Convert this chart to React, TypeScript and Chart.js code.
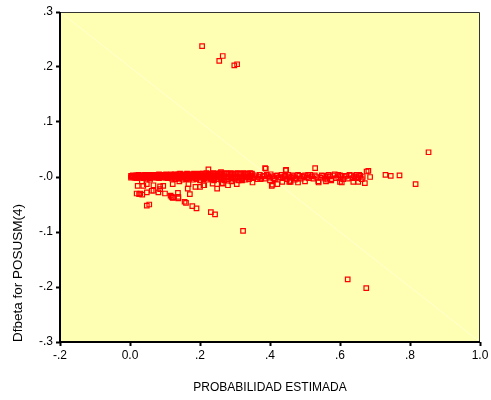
import React, { useEffect, useRef } from 'react';
import { Chart, registerables } from 'chart.js';

Chart.register(...registerables);

// ---- Data (PROBABILIDAD ESTIMADA vs Dfbeta for POSUSM(4)) ----
// dense band near zero, x 0.00 - 0.35 (overlapping rows)
const bandX = [0.003, 0.008, 0.013, 0.018, 0.024, 0.028, 0.033, 0.038, 0.043, 0.049, 0.053, 0.058, 0.063, 0.068, 0.074, 0.078, 0.083, 0.088, 0.093, 0.099, 0.103, 0.108, 0.113, 0.118, 0.124, 0.128, 0.133, 0.138, 0.143, 0.149, 0.153, 0.158, 0.163, 0.168, 0.174, 0.178, 0.183, 0.188, 0.193, 0.199, 0.203, 0.208, 0.213, 0.218, 0.224, 0.228, 0.233, 0.238, 0.243, 0.249, 0.253, 0.258, 0.263, 0.268, 0.274, 0.278, 0.283, 0.288, 0.293, 0.299, 0.303, 0.308, 0.313, 0.318, 0.324, 0.328, 0.333, 0.338, 0.343, 0.348];
const bandYa = [
  -0.001, 0.000, -0.001, -0.002, 0.000, -0.001, 0.000, -0.002, -0.001, 0.000,
  -0.001, -0.002, 0.000, -0.001, 0.001, -0.001, -0.002, 0.000, -0.001, 0.000,
  -0.001, -0.002, 0.000, -0.001, 0.001, -0.001, 0.000, -0.002, -0.001, 0.000,
  -0.001, 0.001, -0.002, 0.000, -0.001, 0.000, -0.001, -0.002, 0.001, 0.000,
  -0.001, 0.000, -0.002, -0.001, 0.001, 0.000, -0.001, -0.002, 0.000, 0.001,
  -0.001, 0.000, -0.002, -0.001, 0.001, 0.000, -0.001, 0.000, -0.002, 0.001,
  -0.001, 0.000, -0.001, -0.002, 0.001, 0.000, -0.001, 0.000, 0.001, -0.001,
];
const bandYb = [
  0.002, 0.003, 0.002, 0.003, 0.004, 0.003, 0.002, 0.003, 0.004, 0.003,
  0.003, 0.004, 0.003, 0.004, 0.003, 0.004, 0.005, 0.003, 0.004, 0.004,
  0.005, 0.004, 0.003, 0.005, 0.004, 0.005, 0.004, 0.005, 0.006, 0.004,
  0.005, 0.004, 0.006, 0.005, 0.004, 0.005, 0.006, 0.005, 0.004, 0.006,
  0.005, 0.006, 0.005, 0.007, 0.005, 0.006, 0.005, 0.007, 0.006, 0.005,
  0.006, 0.007, 0.005, 0.006, 0.007, 0.006, 0.005, 0.007, 0.006, 0.005,
  0.006, 0.007, 0.006, 0.005, 0.007, 0.006, 0.005, 0.006, 0.007, 0.006,
];
const bandXc = [0.005, 0.010, 0.016, 0.021, 0.026, 0.031, 0.036, 0.041, 0.046, 0.051, 0.056, 0.061, 0.066, 0.071, 0.076, 0.081, 0.086, 0.091, 0.096, 0.101, 0.106, 0.111, 0.116, 0.121, 0.126, 0.131, 0.136, 0.141, 0.146, 0.151, 0.156, 0.161, 0.166, 0.171, 0.176, 0.181, 0.186, 0.191, 0.196, 0.201, 0.206, 0.211, 0.216, 0.221, 0.226, 0.231, 0.236, 0.241, 0.246, 0.251];
const bandYc = [
  0.001, 0.002, 0.001, 0.000, 0.002, 0.001, 0.001, 0.002, 0.000, 0.001,
  0.002, 0.001, 0.001, 0.002, 0.000, 0.001, 0.002, 0.001, 0.002, 0.001,
  0.000, 0.002, 0.001, 0.002, 0.001, 0.002, 0.001, 0.000, 0.002, 0.001,
  0.002, 0.001, 0.002, 0.003, 0.001, 0.002, 0.001, 0.003, 0.002, 0.001,
  0.003, 0.002, 0.001, 0.003, 0.002, 0.002, 0.003, 0.001, 0.002, 0.003,
];

const lowerX = [0.120, 0.130, 0.140, 0.150, 0.160, 0.170, 0.180, 0.190, 0.200, 0.210, 0.220, 0.230, 0.240, 0.250, 0.260, 0.270, 0.280, 0.290, 0.300, 0.310, 0.320, 0.330, 0.340];
const lowerY = [-0.003, -0.004, -0.003, -0.005, -0.004, -0.003, -0.005, -0.004, -0.006, -0.004, -0.005, -0.003, -0.006, -0.004, -0.005, -0.006, -0.004, -0.005, -0.003, -0.006, -0.004, -0.005, -0.004];

// band continuing to the right, x 0.34 - 0.67
const rightX = [0.345, 0.352, 0.360, 0.368, 0.375, 0.383, 0.391, 0.398, 0.406, 0.414, 0.421, 0.429, 0.437, 0.444, 0.452, 0.460, 0.468, 0.476, 0.484, 0.492, 0.500, 0.511, 0.519, 0.528, 0.544, 0.552, 0.558, 0.571, 0.580, 0.589, 0.604, 0.613, 0.622, 0.632, 0.641, 0.650, 0.658, 0.665];
const rightY = [0.002, -0.002, 0.003, 0.000, -0.003, 0.002, 0.004, -0.001, 0.001, -0.004, 0.003, 0.000, -0.002, 0.002, 0.004, -0.001, 0.001, -0.003, 0.002, 0.000, 0.003, -0.002, 0.001, 0.003, -0.001, 0.002, -0.003, 0.001, 0.003, -0.002, 0.002, 0.000, -0.003, 0.003, 0.001, -0.002, 0.002, 0.000];
const rightX2 = [0.348, 0.356, 0.364, 0.371, 0.379, 0.387, 0.395, 0.402, 0.410, 0.418, 0.425, 0.433, 0.441, 0.448, 0.456, 0.464, 0.472, 0.480, 0.488, 0.496, 0.505, 0.515, 0.524, 0.533, 0.548, 0.562, 0.575, 0.585, 0.595, 0.600, 0.609, 0.618, 0.627, 0.637, 0.646, 0.655, 0.662];
const rightY2 = [0.005, 0.000, -0.004, 0.004, 0.001, -0.003, 0.001, 0.005, -0.002, 0.002, -0.001, 0.004, 0.001, -0.004, 0.000, 0.003, -0.002, 0.004, -0.003, 0.001, -0.001, 0.004, -0.003, 0.000, 0.003, 0.001, -0.004, 0.005, 0.000, 0.003, -0.004, 0.002, 0.004, -0.002, 0.000, 0.004, -0.004];

// scattered points around the band
const scatterX = [0.048, 0.055, 0.019, 0.026, 0.035, 0.022, 0.038, 0.048, 0.062, 0.081, 0.086, 0.095, 0.100, 0.116, 0.122, 0.137, 0.138, 0.122, 0.141, 0.156, 0.160, 0.171, 0.165, 0.178, 0.190, 0.167, 0.187, 0.200, 0.212, 0.231, 0.243, 0.236, 0.249, 0.265, 0.280, 0.305, 0.224, 0.260, 0.388, 0.407, 0.421, 0.445, 0.457, 0.471, 0.124, 0.119, 0.138, 0.067, 0.029, 0.086, 0.067, 0.048, 0.034, 0.057, 0.262, 0.210, 0.290, 0.320, 0.350, 0.372, 0.400, 0.435, 0.480, 0.500, 0.538, 0.560, 0.575, 0.386, 0.446, 0.529, 0.509, 0.567, 0.595, 0.600, 0.648, 0.676, 0.455, 0.539, 0.564, 0.605, 0.638, 0.652, 0.405, 0.459];
const scatterY = [-0.052, -0.050, -0.030, -0.031, -0.032, -0.016, -0.016, -0.028, -0.025, -0.028, -0.022, -0.016, -0.030, -0.034, -0.038, -0.029, -0.039, -0.013, -0.008, -0.045, -0.047, -0.031, -0.021, -0.053, -0.057, -0.013, -0.018, -0.018, -0.015, -0.064, -0.068, -0.012, -0.021, -0.012, -0.015, -0.013, 0.014, 0.009, 0.015, -0.014, -0.013, 0.012, -0.007, -0.005, -0.037, -0.036, -0.036, -0.015, -0.030, -0.017, -0.025, -0.013, -0.008, -0.005, -0.011, -0.015, -0.008, -0.006, -0.010, -0.004, -0.006, -0.009, -0.010, -0.008, -0.008, -0.008, -0.006, 0.016, 0.013, 0.016, 0.004, 0.004, 0.004, -0.009, 0.004, 0.010, -0.009, -0.010, -0.005, -0.010, -0.009, -0.009, -0.016, -0.009];

// outliers
const outlierX = [0.206, 0.265, 0.255, 0.298, 0.306, 0.323, 0.622, 0.675, 0.853, 0.816, 0.770, 0.745, 0.730, 0.681, 0.686, 0.671];
const outlierY = [0.238, 0.220, 0.211, 0.203, 0.205, -0.098, -0.186, -0.202, 0.045, -0.013, 0.003, 0.002, 0.004, 0.011, 0.000, -0.011];

const xTickValues = [-0.2, 0.0, 0.2, 0.4, 0.6, 0.8, 1.0];
const xTickLabels = ['-.2', '0.0', '.2', '.4', '.6', '.8', '1.0'];
const yTickValues = [-0.3, -0.2, -0.1, 0.0, 0.1, 0.2, 0.3];
const yTickLabels = ['-.3', '-.2', '-.1', '-.0', '.1', '.2', '.3'];

const xTitle = 'PROBABILIDAD ESTIMADA';
const yTitle = 'Dfbeta for POSUSM(4)';

function pairs(xs: number[], ys: number[]) {
  return xs.map((x, i) => ({ x, y: ys[i] }));
}

const plotBg = {
  id: 'plotBg',
  beforeDraw(chart: any) {
    const { ctx, chartArea } = chart;
    const { left, top, right, bottom } = chartArea;
    ctx.save();
    ctx.fillStyle = '#FFFFB4';
    ctx.fillRect(left, top, right - left, bottom - top);
    ctx.strokeStyle = 'rgba(255,255,255,0.35)';
    ctx.lineWidth = 1;
    ctx.beginPath();
    ctx.moveTo(left, top);
    ctx.lineTo(right, bottom);
    ctx.stroke();
    ctx.restore();
  },
  afterDraw(chart: any) {
    const { ctx, chartArea } = chart;
    const { left, top, right, bottom } = chartArea;
    ctx.save();
    ctx.strokeStyle = '#333';
    ctx.lineWidth = 1;
    ctx.beginPath();
    ctx.moveTo(left, top + 0.5);
    ctx.lineTo(right - 0.5, top + 0.5);
    ctx.lineTo(right - 0.5, bottom);
    ctx.stroke();
    ctx.strokeStyle = '#000';
    ctx.lineWidth = 2;
    ctx.beginPath();
    ctx.moveTo(left, top);
    ctx.lineTo(left, bottom);
    ctx.lineTo(right, bottom);
    ctx.stroke();
    ctx.restore();
  },
};

export default function App() {
  const ref = useRef<HTMLCanvasElement>(null);
  useEffect(() => {
    if (!ref.current) return;
    const points = [
      ...pairs(bandX, bandYa),
      ...pairs(bandX, bandYb),
      ...pairs(bandXc, bandYc),
      ...pairs(lowerX, lowerY),
      ...pairs(rightX, rightY),
      ...pairs(rightX2, rightY2),
      ...pairs(scatterX, scatterY),
      ...pairs(outlierX, outlierY),
    ];
    const font = 'Liberation Sans, Arial, sans-serif';
    const chart = new Chart(ref.current, {
      type: 'scatter',
      data: {
        datasets: [
          {
            data: points,
            pointStyle: 'rect',
            pointRadius: 3.2,
            pointBorderWidth: 1.2,
            pointBorderColor: '#FF0000',
            pointBackgroundColor: 'rgba(0,0,0,0)',
          },
        ],
      },
      plugins: [plotBg],
      options: {
        animation: false,
        responsive: false,
        devicePixelRatio: 1,
        layout: { padding: { left: 0, right: 11, top: 12, bottom: 0 } },
        plugins: { legend: { display: false }, tooltip: { enabled: false } },
        scales: {
          x: {
            type: 'linear',
            min: -0.2,
            max: 1.0,
            afterBuildTicks: (s: any) => {
              s.ticks = xTickValues.map((v) => ({ value: v }));
            },
            afterFit: (s: any) => {
              s.height = 58;
            },
            ticks: {
              autoSkip: false,
              maxRotation: 0,
              padding: 2,
              color: '#000',
              font: { family: font, size: 12 },
              callback: (_v: any, i: number) => xTickLabels[i],
            },
            grid: { drawOnChartArea: false, drawTicks: true, tickLength: 4, tickWidth: 2, tickColor: '#000' },
            border: { display: false },
            title: {
              display: true,
              text: xTitle,
              color: '#000',
              font: { family: font, size: 12 },
              padding: { top: 0, bottom: 5 },
            },
          },
          y: {
            type: 'linear',
            min: -0.3,
            max: 0.3,
            afterBuildTicks: (s: any) => {
              s.ticks = yTickValues.map((v) => ({ value: v }));
            },
            afterFit: (s: any) => {
              s.width = 60;
            },
            ticks: {
              autoSkip: false,
              padding: 3,
              color: '#000',
              font: { family: font, size: 12 },
              callback: (_v: any, i: number) => yTickLabels[i],
            },
            grid: { drawOnChartArea: false, drawTicks: true, tickLength: 4, tickWidth: 2, tickColor: '#000' },
            border: { display: false },
            title: {
              display: true,
              text: yTitle,
              align: 'start',
              color: '#000',
              font: { family: font, size: 13.5 },
              padding: { top: 10, bottom: 0 },
            },
          },
        },
      },
    });
    return () => chart.destroy();
  }, []);
  return (
    <div style={{ position: 'fixed', left: 0, top: 0, width: 491, height: 400, background: '#fff' }}>
      <canvas ref={ref} width={491} height={400} />
    </div>
  );
}
